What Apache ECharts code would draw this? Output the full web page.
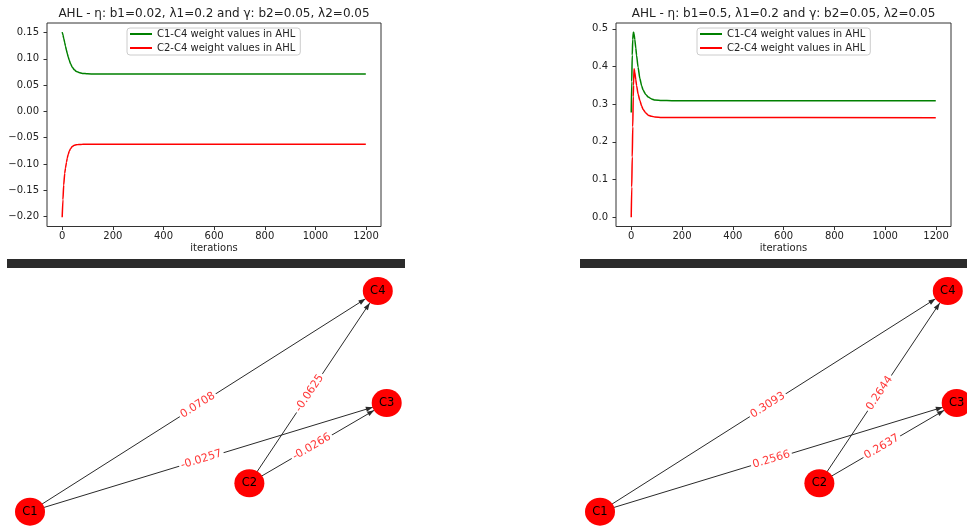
<!DOCTYPE html>
<html>
<head>
<meta charset="utf-8">
<script src="https://cdn.jsdelivr.net/npm/echarts@6/dist/echarts.min.js"></script>
<style>
  html, body { margin: 0; padding: 0; background: #ffffff; }
  #main { width: 967px; height: 526px; }
</style>
</head>
<body>
<div id="main"></div>
<script>
const FONT = 'DejaVu Sans';

// Weight trajectories over training iterations (left run: b1=0.02)
const itersLeft = [0, 3, 6, 10, 13, 17, 20, 24, 28, 33, 40, 48, 56, 66, 80, 100, 130, 180, 1199];
const c1c4Left  = [0.1505, 0.1455, 0.139, 0.1305, 0.124, 0.116, 0.110, 0.1035, 0.097, 0.0905, 0.0840, 0.0790, 0.0760, 0.0738, 0.0722, 0.0713, 0.0709, 0.0708, 0.0708];
const c2c4Left  = [-0.2015, -0.168, -0.140, -0.118, -0.108, -0.097, -0.089, -0.0815, -0.076, -0.071, -0.0668, -0.0645, -0.0636, -0.0630, -0.0627, -0.0626, -0.0625, -0.0625, -0.0625];

// Right run: b1=0.5
const itersRight = [0, 2, 4, 6, 8, 9, 11, 14, 18, 21, 27, 34, 41, 47, 57, 67, 80, 93, 120, 160, 1199];
const c1c4Right  = [0.278, 0.36, 0.43, 0.472, 0.489, 0.491, 0.487, 0.472, 0.449, 0.430, 0.398, 0.368, 0.349, 0.337, 0.326, 0.319, 0.314, 0.311, 0.3098, 0.3094, 0.3093];
const c2c4Right  = [0.0, 0.08, 0.16, 0.24, 0.32, 0.35, 0.394, 0.385, 0.365, 0.350, 0.327, 0.310, 0.295, 0.286, 0.277, 0.271, 0.268, 0.266, 0.2648, 0.2645, 0.2644];

const xTicks = [0, 200, 400, 600, 800, 1000, 1200];
const yTicksLeft = [-0.20, -0.15, -0.10, -0.05, 0.00, 0.05, 0.10, 0.15];
const yTicksRight = [0.0, 0.1, 0.2, 0.3, 0.4, 0.5];

const titleLeft = 'AHL - η: b1=0.02, λ1=0.2 and γ: b2=0.05, λ2=0.05';
const titleRight = 'AHL - η: b1=0.5, λ1=0.2 and γ: b2=0.05, λ2=0.05';
const seriesNames = ['C1-C4 weight values in AHL', 'C2-C4 weight values in AHL'];
const axisName = 'iterations';

// Network layout (shared by both graphs) and final edge weights
const nodeNames = ['C1', 'C2', 'C3', 'C4'];
const nodeX = [0, 0.615, 1, 0.975];
const nodeY = [0, 0.129, 0.4925, 1];
const edgeSources = ['C1', 'C1', 'C2', 'C2'];
const edgeTargets = ['C4', 'C3', 'C4', 'C3'];
const weightsLeft = [0.0708, -0.0257, -0.0625, -0.0266];
const weightsRight = [0.3093, 0.2566, 0.2644, 0.2637];

const zip = (xs, ys) => xs.map((x, i) => [x, ys[i]]);
const minus = s => s.replace('-', '\u2212');

const txt = { fontFamily: FONT, fontSize: 10, color: '#222' };

function plotXAxis(gridIndex) {
  return {
    gridIndex, type: 'value', min: -59.95, max: 1258.95,
    axisLine: { show: false, onZero: false }, splitLine: { show: false },
    axisTick: { show: true, customValues: xTicks, length: 3.5, lineStyle: { color: '#333', width: 1 } },
    axisLabel: { customValues: xTicks, margin: 5, ...txt, formatter: v => String(v) },
    name: axisName, nameLocation: 'middle', nameGap: 17, nameTextStyle: { ...txt }
  };
}
function plotYAxis(gridIndex, ticks, min, max, digits) {
  return {
    gridIndex, type: 'value', min, max,
    axisLine: { show: false, onZero: false }, splitLine: { show: false },
    axisTick: { show: true, customValues: ticks, length: 3.5, lineStyle: { color: '#333', width: 1 } },
    axisLabel: { customValues: ticks, margin: 8, ...txt, formatter: v => minus(v.toFixed(digits)) }
  };
}
function hiddenAxis(gridIndex) {
  return { gridIndex, type: 'value', min: 0, max: 1, show: false };
}
function lineSeries(name, xi, iters, vals, color) {
  return {
    type: 'line', name, xAxisIndex: xi, yAxisIndex: xi,
    data: zip(iters, vals), showSymbol: false, symbol: 'none',
    lineStyle: { color, width: 1.5 }, itemStyle: { color },
    smooth: 0.2, smoothMonotone: 'x', animation: false
  };
}
// Arrowhead whose tip sits at the symbol centre, so it ends on the node rim
const arrowHead = 'path://M0,0L0,0M10,0L10,0M5,10L6.8,20L3.2,20Z';

function graphSeries(gi, weights) {
  return {
    type: 'graph', coordinateSystem: 'cartesian2d', xAxisIndex: gi, yAxisIndex: gi,
    layout: 'none', animation: false, z: 3,
    symbol: 'circle', symbolSize: [30, 28],
    itemStyle: { color: '#ff0000' },
    label: { show: true, position: 'inside', fontFamily: FONT, fontSize: 11.5, color: '#000' },
    edgeSymbol: ['none', arrowHead], edgeSymbolSize: [0, 14],
    lineStyle: { color: '#2a2a2a', width: 1, opacity: 1, curveness: 0 },
    edgeLabel: {
      show: true, position: 'insideMiddle', formatter: p => String(p.value),
      fontFamily: FONT, fontSize: 11, color: '#ff3a3a',
      backgroundColor: '#ffffff', padding: [0, 2]
    },
    emphasis: { disabled: true },
    data: nodeNames.map((n, i) => ({ name: n, value: [nodeX[i], nodeY[i]] })),
    links: edgeSources.map((s, i) => ({ source: s, target: edgeTargets[i], value: weights[i] }))
  };
}
function legendAt(left) {
  return {
    data: seriesNames, orient: 'vertical', left, top: 28,
    icon: 'rect', itemWidth: 22, itemHeight: 2, itemGap: 4,
    padding: [1, 5, 2, 3], borderColor: '#cccccc', borderWidth: 1, borderRadius: 3,
    backgroundColor: 'rgba(255,255,255,0.8)', textStyle: { ...txt },
    selectedMode: false
  };
}
function titleAt(text, cx) {
  return {
    text, left: cx, top: 8, textAlign: 'center', padding: 0,
    textStyle: { fontFamily: FONT, fontSize: 12, fontWeight: 'normal', color: '#222' }
  };
}

const chart = echarts.init(document.getElementById('main'), null, { renderer: 'canvas' });
chart.setOption({
  backgroundColor: '#ffffff',
  animation: false,
  title: [titleAt(titleLeft, 214), titleAt(titleRight, 783.5)],
  legend: [legendAt(127), legendAt(697)],
  grid: [
    { left: 47, top: 23, width: 334, height: 203.5, show: true, borderColor: '#333', borderWidth: 1, backgroundColor: 'transparent' },
    { left: 616, top: 23, width: 335, height: 203.5, show: true, borderColor: '#333', borderWidth: 1, backgroundColor: 'transparent' },
    { left: 30, top: 291, width: 356.7, height: 220.7 },
    { left: 600, top: 291, width: 356.7, height: 220.7 }
  ],
  xAxis: [plotXAxis(0), plotXAxis(1), hiddenAxis(2), hiddenAxis(3)],
  yAxis: [
    plotYAxis(0, yTicksLeft, -0.219, 0.168, 2),
    plotYAxis(1, yTicksRight, -0.0246, 0.5156, 1),
    hiddenAxis(2), hiddenAxis(3)
  ],
  graphic: [
    { type: 'rect', shape: { x: 7, y: 259, width: 398, height: 9 }, style: { fill: '#2b2b2b' } },
    { type: 'rect', shape: { x: 580, y: 259, width: 387, height: 9 }, style: { fill: '#2b2b2b' } }
  ],
  series: [
    lineSeries(seriesNames[0], 0, itersLeft, c1c4Left, '#008000'),
    lineSeries(seriesNames[1], 0, itersLeft, c2c4Left, '#ff0000'),
    lineSeries(seriesNames[0], 1, itersRight, c1c4Right, '#008000'),
    lineSeries(seriesNames[1], 1, itersRight, c2c4Right, '#ff0000'),
    graphSeries(2, weightsLeft),
    graphSeries(3, weightsRight)
  ]
});
</script>
</body>
</html>
